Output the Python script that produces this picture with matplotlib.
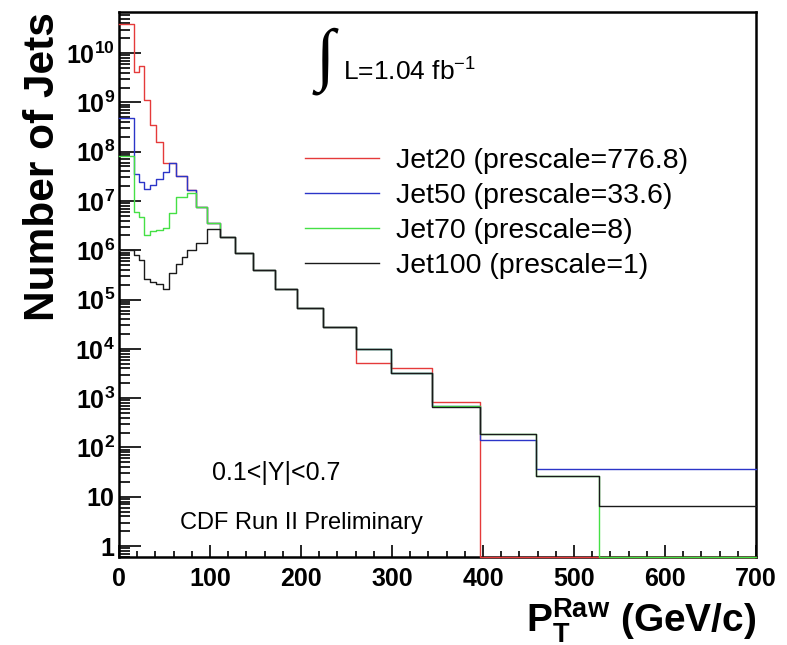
import numpy as np
import matplotlib
matplotlib.use("Agg")
import matplotlib.pyplot as plt
from matplotlib.ticker import LogLocator, MultipleLocator, NullFormatter

plt.rcParams['font.family'] = ['Liberation Sans', 'DejaVu Sans']
plt.rcParams['mathtext.fontset'] = 'custom'
plt.rcParams['mathtext.rm'] = 'Liberation Sans'
plt.rcParams['mathtext.bf'] = 'Liberation Sans:bold'
plt.rcParams['mathtext.it'] = 'Liberation Sans:italic'

# --- bin edges (GeV/c) ---
bin_edges = [0, 16, 22, 28, 34, 41, 48, 55, 63, 69, 75, 85, 97, 111, 128, 147,
             171, 196, 224, 260, 299, 344, 397, 458, 527, 700]

# --- number of jets per bin ---
jet20 = [3.9e10, 4.1e9, 5.5e9, 1.1e9, 3.5e8, 1.6e8, 5.9e7, 5.9e7, 3.2e7, 3.2e7,
         1.66e7, 7.6e6, 3.5e6, 1.86e6, 8.7e5, 4.0e5, 1.6e5, 6.8e4, 2.75e4, 5.1e3,
         4.1e3, 830, 0, 0, 0]
jet50 = [4.8e8, 3.5e7, 2.4e7, 1.74e7, 2.1e7, 2.75e7, 3.9e7, 5.9e7, 3.2e7, 3.2e7,
         1.66e7, 7.6e6, 3.5e6, 1.86e6, 8.7e5, 4.0e5, 1.6e5, 6.8e4, 2.75e4, 1.0e4,
         3.2e3, 700, 141, 36, 36]
jet70 = [8.1e7, 5.9e6, 4.7e6, 2.0e6, 2.5e6, 2.6e6, 2.8e6, 5.6e6, 1.2e7, 1.2e7,
         1.45e7, 7.6e6, 3.5e6, 1.86e6, 8.7e5, 4.0e5, 1.6e5, 6.8e4, 2.75e4, 1.0e4,
         3.2e3, 700, 186, 26, 0]
jet100 = [1.0e6, 7.9e5, 6.3e5, 2.6e5, 2.3e5, 2.1e5, 1.6e5, 3.5e5, 5.2e5, 7.2e5,
          1.0e6, 1.4e6, 2.7e6, 1.86e6, 8.7e5, 4.0e5, 1.6e5, 6.8e4, 2.75e4, 1.0e4,
          3.2e3, 660, 186, 26, 6.5]

labels = ['Jet20 (prescale=776.8)', 'Jet50 (prescale=33.6)',
          'Jet70 (prescale=8)', 'Jet100 (prescale=1)']
colors = ['#e53a3a', '#2b35c8', '#45e045', '#1a1a1a']

ytick_vals = [1, 10, 1e2, 1e3, 1e4, 1e5, 1e6, 1e7, 1e8, 1e9, 1e10]
ytick_labels = [r'$\mathbf{1}$', r'$\mathbf{10}$'] + \
    [r'$\mathbf{10^{%d}}$' % k for k in range(2, 11)]

ymin, ymax = 0.6, 6.8e10

fig = plt.figure(figsize=(7.87, 6.45), dpi=100)
ax = fig.add_axes([0.1512, 0.1364, 0.8094, 0.845])

for vals, col, lab in zip([jet20, jet50, jet70, jet100], colors, labels):
    v = np.maximum(np.array(vals, dtype=float), ymin)  # empty bins sit on the axis
    ax.step(bin_edges, np.append(v, v[-1]), where='post', color=col, lw=1.0,
            label=lab, clip_on=False, zorder=5)

ax.set_yscale('log')
ax.set_xlim(0, 700)
ax.set_ylim(ymin, ymax)

ax.set_yticks(ytick_vals)
ax.set_yticklabels(ytick_labels)
ax.yaxis.set_minor_locator(LogLocator(base=10, subs=np.arange(2, 10), numticks=20))
ax.yaxis.set_minor_formatter(NullFormatter())
ax.xaxis.set_major_locator(MultipleLocator(100))
ax.xaxis.set_minor_locator(MultipleLocator(20))

for s in ax.spines.values():
    s.set_linewidth(1.8)
ax.tick_params(axis='both', which='both', direction='in', top=False, right=False,
               width=1.2)
ax.tick_params(axis='y', which='major', length=16, pad=3, labelsize=18)
ax.tick_params(axis='y', which='minor', length=8)
ax.tick_params(axis='x', which='major', length=8.5, pad=7, labelsize=18)
ax.tick_params(axis='x', which='minor', length=4)
for t in ax.get_xticklabels():
    t.set_fontweight('bold')

ax.set_ylabel('Number of Jets', fontsize=30.5, fontweight='bold')
ax.yaxis.set_label_coords(-0.088, 0.717)
ax.set_xlabel(r'$\mathbf{P_{T}^{Raw}}$ (GeV/c)', fontsize=28, fontweight='bold',
              loc='right', labelpad=4)

ax.text(0.308, 0.909, '\u222b', transform=ax.transAxes, fontsize=50,
        family='Liberation Serif', va='center', ha='left')
ax.text(0.352, 0.89, r'L=1.04 fb$^{-1}$', transform=ax.transAxes, fontsize=19,
        va='center', ha='left')
ax.text(0.146, 0.155, '0.1<|Y|<0.7', transform=ax.transAxes, fontsize=18,
        va='center', ha='left')
ax.text(0.096, 0.062, 'CDF Run II Preliminary', transform=ax.transAxes,
        fontsize=17, va='center', ha='left')

ax.legend(loc='upper left', bbox_to_anchor=(0.292, 0.751), frameon=False,
          fontsize=20.5, handlelength=2.6, handletextpad=0.6, labelspacing=0.32,
          borderpad=0, borderaxespad=0)

fig.savefig('out.png', dpi=100)
